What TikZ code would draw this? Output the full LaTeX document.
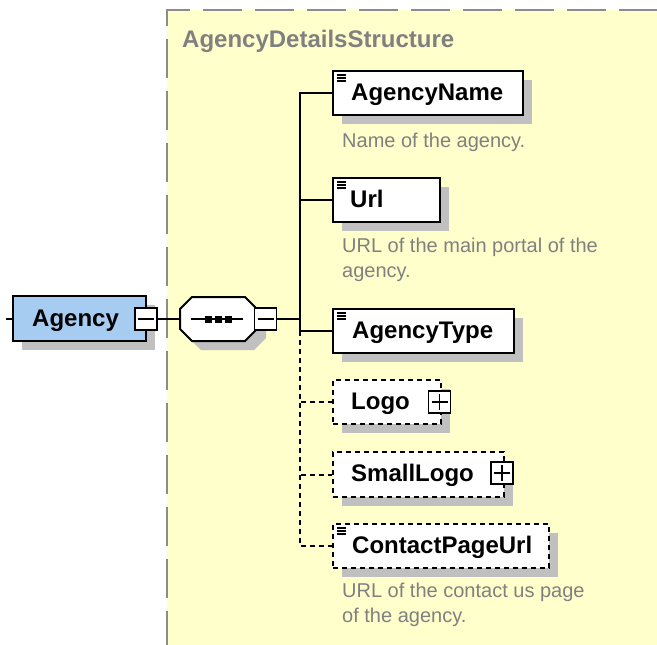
\documentclass[tikz,border=0pt]{standalone}
\usepackage{fontspec}
\setmainfont{Liberation Sans}
\usetikzlibrary{shadows}
\definecolor{bgyellow}{RGB}{255,255,204}
\definecolor{frame}{RGB}{140,140,140}
\definecolor{txtgray}{RGB}{128,128,128}
\definecolor{shadowgray}{RGB}{192,192,192}
\definecolor{agblue}{RGB}{166,204,242}
\tikzset{
  shad/.style={drop shadow={shadow xshift=9pt,shadow yshift=-9pt,fill=shadowgray,opacity=1}},
  elem/.style={draw,line width=2pt,fill=white,inner sep=0pt,anchor=north west,minimum height=44pt,shad},
  optelem/.style={elem,dash pattern=on 5pt off 4pt},
  docicon/.style={path picture={
     \foreach \dy in {4,7,10}{
       \draw[line width=1.2pt,solid] ([shift={(4pt,-\dy pt)}]path picture bounding box.north west) -- ++(9pt,0pt);}}},
  lbl/.style={font=\fontsize{24}{28}\selectfont\bfseries,inner sep=0pt,anchor=base west},
  desc/.style={font=\fontsize{20}{25}\selectfont,text=txtgray,inner sep=0pt,anchor=base west,align=left},
  conn/.style={line width=2pt},
  optconn/.style={line width=2pt,dash pattern=on 5pt off 4pt},
  pmbox/.style={draw,line width=1.5pt,fill=white,minimum width=22pt,minimum height=22pt,inner sep=0pt},
  minusbox/.style={pmbox,path picture={
     \draw[line width=1.5pt] ([xshift=3pt]path picture bounding box.west) -- ([xshift=-3pt]path picture bounding box.east);}},
  plusbox/.style={pmbox,path picture={
     \draw[line width=1.5pt] ([xshift=3pt]path picture bounding box.west) -- ([xshift=-3pt]path picture bounding box.east);
     \draw[line width=1.5pt] ([yshift=-3pt]path picture bounding box.north) -- ([yshift=3pt]path picture bounding box.south);}},
}
\begin{document}
\begin{tikzpicture}[x=1pt,y=-1pt]
\useasboundingbox (0,0) rectangle (657,645);
% complex type area
\fill[bgyellow] (167,10) rectangle (660,650);
\draw[frame,line width=2pt,dash pattern=on 39pt off 13pt] (167,650) -- (167,10) -- (660,10);
\node[lbl,text=txtgray] (title) at (182,47) {AgencyDetailsStructure};

% Agency element
\coordinate (stub) at (6,318.5);
\node[draw,line width=2pt,fill=agblue,minimum width=133pt,minimum height=45pt,inner sep=0pt,shad] (agency) at (79.5,318.5) {};
\node[lbl] (agencyt) at (32,326) {Agency};
\draw[conn] (stub) -- (agency.west);
\node[minusbox] (m1) at (146,319) {};

% sequence compositor (octagon)
\node[minimum width=77pt,minimum height=44pt,inner sep=0pt] (seq) at (218.5,319) {};
\fill[shadowgray] (201,306) -- (254,306) -- (266,318) -- (266,338) -- (254,350) -- (201,350) -- (189,338) -- (189,318) -- cycle;
\filldraw[fill=white,draw=black,line width=2pt,line join=round]
  (192,297) -- (245,297) -- (257,309) -- (257,329) -- (245,341) -- (192,341) -- (180,329) -- (180,309) -- cycle;
\draw[line width=2pt] (191,319) -- (243,319);
\foreach \cx in {208.5,218.5,228.5}{
  \fill (\cx-3.5,315.5) rectangle (\cx+3.5,322.5);}
\node[minusbox] (m2) at (265.5,319) {};
\draw[conn] (m1.east) -- (seq.west);

% child elements
\node[elem,docicon,minimum width=190pt] (an) at (332,70) {};
\node[lbl] (ant) at (351,100.5) {AgencyName};
\node[desc] (and) at (342,147) {Name of the agency.};

\node[elem,docicon,minimum width=107pt] (url) at (332,177) {};
\node[lbl] (urlt) at (350,207.5) {Url};
\node[desc] (urld) at (342,277) {URL of the main portal of the\\agency.};

\node[elem,docicon,minimum width=181pt] (at) at (332,308) {};
\node[lbl] (att) at (352,338.5) {AgencyType};

\node[optelem,minimum width=108pt] (logo) at (332,379) {};
\node[lbl] (logot) at (351,409.5) {Logo};
\node[plusbox] (p1) at (439.5,402) {};

\node[optelem,minimum width=171pt,minimum height=45pt] (sl) at (332,451) {};
\node[lbl] (slt) at (351,481.5) {SmallLogo};
\node[plusbox] (p2) at (502,473) {};

\node[optelem,docicon,minimum width=216pt] (cpu) at (332,523) {};
\node[lbl] (cput) at (352,553.5) {ContactPageUrl};
\node[desc] (cpud) at (342,622) {URL of the contact us page\\of the agency.};

% connectors
\coordinate (junc) at (300,319);
\draw[conn] (m2.east) -- (junc);
\draw[conn] (an.west) -| (junc);
\draw[conn] (url.west) -| (junc);
\draw[conn] (at.west) -| (junc);
\draw[optconn] (at.west -| junc) |- (logo.west);
\draw[optconn] (at.west -| junc) |- (sl.west);
\draw[optconn] (at.west -| junc) |- (cpu.west);
\end{tikzpicture}
\end{document}
